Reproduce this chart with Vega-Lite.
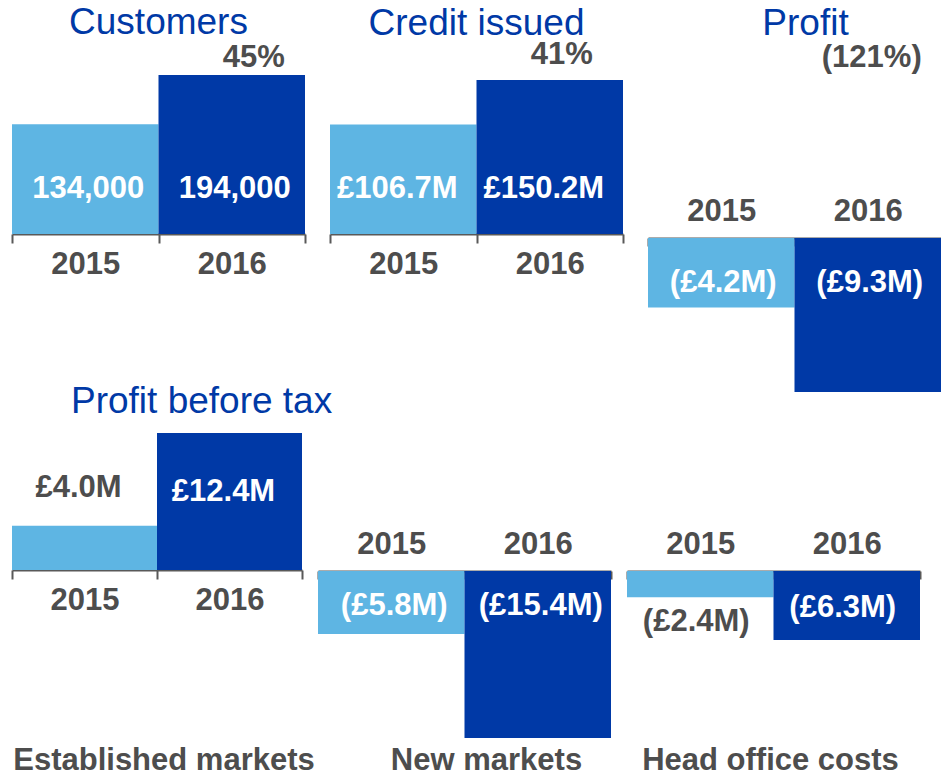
{
  "$schema": "https://vega.github.io/schema/vega-lite/v6.json",
  "background": "white",
  "padding": {"left": 11, "top": 3, "right": 0, "bottom": 0},
  "datasets": {
    "metrics": [
      {"panel": "Customers", "year": "2015", "value": 134000, "label": "134,000"},
      {"panel": "Customers", "year": "2016", "value": 194000, "label": "194,000"},
      {"panel": "Credit", "year": "2015", "value": 106.7, "label": "£106.7M"},
      {"panel": "Credit", "year": "2016", "value": 150.2, "label": "£150.2M"},
      {"panel": "Profit", "year": "2015", "value": -4.2, "label": "(£4.2M)"},
      {"panel": "Profit", "year": "2016", "value": -9.3, "label": "(£9.3M)"},
      {"panel": "Established", "year": "2015", "value": 4.0, "label": "£4.0M"},
      {"panel": "Established", "year": "2016", "value": 12.4, "label": "£12.4M"},
      {"panel": "New", "year": "2015", "value": -5.8, "label": "(£5.8M)"},
      {"panel": "New", "year": "2016", "value": -15.4, "label": "(£15.4M)"},
      {"panel": "Head", "year": "2015", "value": -2.4, "label": "(£2.4M)"},
      {"panel": "Head", "year": "2016", "value": -6.3, "label": "(£6.3M)"}
    ],
    "changes": [
      {"panel": "Customers", "year": "2016", "change": "45%"},
      {"panel": "Credit", "year": "2016", "change": "41%"},
      {"panel": "Profit", "year": "2016", "change": "(121%)"}
    ]
  },
  "spacing": -9,
  "vconcat": [
    {
      "bounds": "flush",
      "spacing": 25,
      "hconcat": [
        {
          "width": 293, "height": 317,
          "title": {"text": "Customers", "offset": 0},
          "data": {"name": "metrics"},
          "transform": [{"filter": "datum.panel === 'Customers'"}],
          "encoding": {"x": {"field": "year", "type": "nominal", "scale": {"paddingInner": 0, "paddingOuter": 0}, "axis": {"orient": "bottom", "offset": -158, "tickSize": 9, "labelPadding": 6}}},
          "layer": [
            {"mark": "bar", "encoding": {"y": {"field": "value", "type": "quantitative", "scale": {"domain": [-192780, 194000]}, "axis": null}, "y2": {"datum": 0}, "color": {"field": "year", "type": "nominal", "scale": {"range": ["#5EB5E3", "#0039A6"]}, "legend": null}}},
            {"mark": {"type": "text", "color": "white", "dy": -45, "dx": 3}, "encoding": {"y": {"datum": 0, "type": "quantitative", "scale": {"domain": [-192780, 194000]}}, "text": {"field": "label"}}},
            {"data": {"name": "changes"}, "transform": [{"filter": "datum.panel === 'Customers'"}], "mark": {"type": "text", "color": "#4D4D4D", "dy": -176, "dx": 22}, "encoding": {"y": {"datum": 0, "type": "quantitative", "scale": {"domain": [-192780, 194000]}}, "text": {"field": "change"}}}
          ]
        },
        {
          "width": 293, "height": 317,
          "title": {"text": "Credit issued", "offset": -4},
          "data": {"name": "metrics"},
          "transform": [{"filter": "datum.panel === 'Credit'"}],
          "encoding": {"x": {"field": "year", "type": "nominal", "scale": {"paddingInner": 0, "paddingOuter": 0}, "axis": {"orient": "bottom", "offset": -158, "tickSize": 9, "labelPadding": 6}}},
          "layer": [
            {"mark": "bar", "encoding": {"y": {"field": "value", "type": "quantitative", "scale": {"domain": [-154.1, 155.1]}, "axis": null}, "y2": {"datum": 0}, "color": {"field": "year", "type": "nominal", "legend": null}}},
            {"mark": {"type": "text", "color": "white", "dy": -45, "dx": -6}, "encoding": {"y": {"datum": 0, "type": "quantitative", "scale": {"domain": [-154.1, 155.1]}}, "text": {"field": "label"}}},
            {"data": {"name": "changes"}, "transform": [{"filter": "datum.panel === 'Credit'"}], "mark": {"type": "text", "color": "#4D4D4D", "dy": -179, "dx": 12}, "encoding": {"y": {"datum": 0, "type": "quantitative", "scale": {"domain": [-154.1, 155.1]}}, "text": {"field": "change"}}}
          ]
        },
        {
          "width": 293, "height": 317,
          "title": {"text": "Profit", "offset": -1, "dx": 11},
          "data": {"name": "metrics"},
          "transform": [{"filter": "datum.panel === 'Profit'"}],
          "encoding": {"x": {"field": "year", "type": "nominal", "scale": {"paddingInner": 0, "paddingOuter": 0}, "axis": {"orient": "top", "offset": -163, "tickSize": -8, "labelPadding": 19}}},
          "layer": [
            {"mark": "bar", "encoding": {"y": {"field": "value", "type": "quantitative", "scale": {"domain": [-9.3, 9.84]}, "axis": null}, "y2": {"datum": 0}, "color": {"field": "year", "type": "nominal", "legend": null}}},
            {"mark": {"type": "text", "color": "white", "dy": 45, "dx": 2}, "encoding": {"y": {"datum": 0, "type": "quantitative", "scale": {"domain": [-9.3, 9.84]}}, "text": {"field": "label"}}},
            {"data": {"name": "changes"}, "transform": [{"filter": "datum.panel === 'Profit'"}], "mark": {"type": "text", "color": "#4D4D4D", "dy": -180, "dx": 4}, "encoding": {"y": {"datum": 0, "type": "quantitative", "scale": {"domain": [-9.3, 9.84]}}, "text": {"field": "change"}}}
          ]
        }
      ]
    },
    {
      "bounds": "flush",
      "spacing": 16,
      "title": {"text": "Profit before tax", "anchor": "start", "dx": 59, "offset": 12},
      "hconcat": [
        {
          "width": 290, "height": 305,
          "title": {"text": "Established markets", "orient": "bottom", "offset": 8, "dx": 7, "fontSize": 31, "fontWeight": "bold", "color": "#4D4D4D"},
          "data": {"name": "metrics"},
          "transform": [{"filter": "datum.panel === 'Established'"}],
          "encoding": {"x": {"field": "year", "type": "nominal", "scale": {"paddingInner": 0, "paddingOuter": 0}, "axis": {"orient": "bottom", "offset": -168, "tickSize": 9, "labelPadding": 6}}},
          "layer": [
            {"mark": "bar", "encoding": {"y": {"field": "value", "type": "quantitative", "scale": {"domain": [-15.2, 12.4]}, "axis": null}, "y2": {"datum": 0}, "color": {"field": "year", "type": "nominal", "legend": null}}},
            {"transform": [{"filter": "datum.year === '2015'"}], "mark": {"type": "text", "color": "#4D4D4D", "dy": -82, "dx": -6}, "encoding": {"y": {"datum": 0, "type": "quantitative", "scale": {"domain": [-15.2, 12.4]}}, "text": {"field": "label"}}},
            {"transform": [{"filter": "datum.year === '2016'"}], "mark": {"type": "text", "color": "white", "dy": -78, "dx": -6}, "encoding": {"y": {"datum": 0, "type": "quantitative", "scale": {"domain": [-15.2, 12.4]}}, "text": {"field": "label"}}}
          ]
        },
        {
          "width": 293, "height": 305,
          "title": {"text": "New  markets", "orient": "bottom", "offset": 8, "dx": 22, "fontSize": 31, "fontWeight": "bold", "color": "#4D4D4D"},
          "data": {"name": "metrics"},
          "transform": [{"filter": "datum.panel === 'New'"}],
          "encoding": {"x": {"field": "year", "type": "nominal", "scale": {"paddingInner": 0, "paddingOuter": 0}, "axis": {"orient": "top", "offset": -138, "tickSize": -8, "labelPadding": 19}}},
          "layer": [
            {"mark": "bar", "encoding": {"y": {"field": "value", "type": "quantitative", "scale": {"domain": [-15.4, 12.73]}, "axis": null}, "y2": {"datum": 0}, "color": {"field": "year", "type": "nominal", "legend": null}}},
            {"mark": {"type": "text", "color": "white", "dy": 35, "dx": 3}, "encoding": {"y": {"datum": 0, "type": "quantitative", "scale": {"domain": [-15.4, 12.73]}}, "text": {"field": "label"}}}
          ]
        },
        {
          "width": 293, "height": 305,
          "title": {"text": "Head office costs", "orient": "bottom", "offset": 8, "dx": -3, "fontSize": 31, "fontWeight": "bold", "color": "#4D4D4D"},
          "data": {"name": "metrics"},
          "transform": [{"filter": "datum.panel === 'Head'"}],
          "encoding": {"x": {"field": "year", "type": "nominal", "scale": {"paddingInner": 0, "paddingOuter": 0}, "axis": {"orient": "top", "offset": -138, "tickSize": -8, "labelPadding": 19}}},
          "layer": [
            {"mark": "bar", "encoding": {"y": {"field": "value", "type": "quantitative", "scale": {"domain": [-15.25, 12.6]}, "axis": null}, "y2": {"datum": 0}, "color": {"field": "year", "type": "nominal", "legend": null}}},
            {"transform": [{"filter": "datum.year === '2015'"}], "mark": {"type": "text", "color": "#4D4D4D", "dy": 51, "dx": -4}, "encoding": {"y": {"datum": 0, "type": "quantitative", "scale": {"domain": [-15.25, 12.6]}}, "text": {"field": "label"}}},
            {"transform": [{"filter": "datum.year === '2016'"}], "mark": {"type": "text", "color": "white", "dy": 37, "dx": -4}, "encoding": {"y": {"datum": 0, "type": "quantitative", "scale": {"domain": [-15.25, 12.6]}}, "text": {"field": "label"}}}
          ]
        }
      ]
    }
  ],
  "config": {
    "view": {"stroke": null},
    "font": "Liberation Sans",
    "title": {"font": "Liberation Sans", "fontSize": 37, "fontWeight": "normal", "color": "#0039A6", "frame": "group"},
    "text": {"font": "Liberation Sans", "fontSize": 31, "fontWeight": "bold", "baseline": "middle", "align": "center"},
    "axis": {"title": null, "labelAngle": 0, "labelFont": "Liberation Sans", "labelFontSize": 31, "labelFontWeight": "bold", "labelColor": "#4D4D4D", "tickBand": "extent", "tickWidth": 2, "tickColor": "#595959", "domainColor": "#595959", "domainWidth": 2, "zindex": 1, "grid": false}
  }
}
